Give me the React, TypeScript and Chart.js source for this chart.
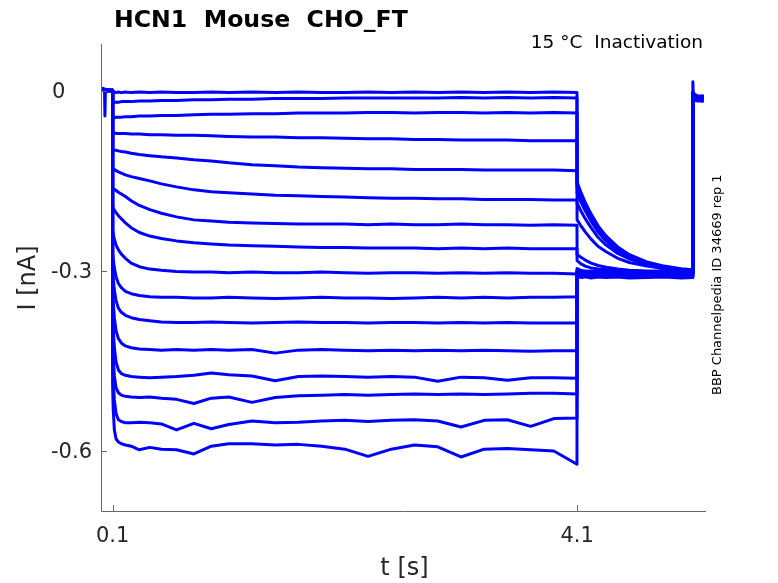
import React, { useEffect, useRef } from "react";
import Chart from "chart.js/auto";

// sample times (s) of each sweep segment
const preTimes = [0, 0.03, 0.034, 0.038, 0.099];
const stepTimes = [
  0.1, 0.105, 0.115, 0.13, 0.15, 0.175, 0.21, 0.26, 0.33, 0.42,
  0.52, 0.65, 0.8, 0.95, 1.1, 1.3, 1.5, 1.7, 1.9, 2.1,
  2.3, 2.5, 2.7, 2.9, 3.1, 3.3, 3.5, 3.7, 3.9, 4.099,
];
const tailTimes = [4.1, 4.13, 4.17, 4.22, 4.28, 4.35, 4.45, 4.55, 4.7, 4.85, 5.0, 5.095];
const postTimes = [5.097, 5.1, 5.14, 5.19];
const sweepTimes = [...preTimes, ...stepTimes, ...tailTimes, ...postTimes];

// current (nA): pre | step | tail | post
const sweep01 = [
  0.005, 0.003, -0.042, 0.002, 0.001,
  -0.002, -0.003, -0.002, -0.003, -0.002, -0.003, -0.002, -0.003, -0.002, -0.003,
  -0.002, -0.003, -0.003, -0.002, -0.003, -0.002, -0.003, -0.002, -0.003, -0.003,
  -0.002, -0.003, -0.002, -0.003, -0.002, -0.003, -0.002, -0.003, -0.002, -0.003,
  -0.152, -0.168, -0.186, -0.205, -0.225, -0.242, -0.26, -0.273, -0.285, -0.292, -0.297, -0.298,
  0.015, -0.004, -0.009, -0.008,
];
const sweep02 = [
  0.002, 0.001, 0.0, 0.001, -0.001,
  -0.02, -0.02, -0.019, -0.019, -0.019, -0.018, -0.018, -0.018, -0.017, -0.017,
  -0.016, -0.016, -0.015, -0.015, -0.014, -0.014, -0.013, -0.013, -0.013, -0.012,
  -0.012, -0.012, -0.012, -0.012, -0.011, -0.012, -0.011, -0.012, -0.011, -0.012,
  -0.155, -0.17, -0.188, -0.207, -0.226, -0.243, -0.262, -0.274, -0.286, -0.293, -0.297, -0.298,
  -0.003, -0.009, -0.011, -0.01,
];
const sweep03 = [
  0.003, 0.0, 0.001, 0.0, 0.001,
  -0.045, -0.045, -0.045, -0.044, -0.044, -0.044, -0.043, -0.043, -0.042, -0.042,
  -0.041, -0.041, -0.04, -0.039, -0.039, -0.038, -0.038, -0.037, -0.037, -0.037,
  -0.036, -0.036, -0.037, -0.036, -0.036, -0.037, -0.036, -0.037, -0.036, -0.037,
  -0.16, -0.175, -0.192, -0.21, -0.229, -0.246, -0.264, -0.276, -0.288, -0.295, -0.299, -0.3,
  -0.005, -0.012, -0.01, -0.013,
];
const sweep04 = [
  0.001, 0.002, 0.0, 0.001, 0.0,
  -0.07, -0.07, -0.07, -0.071, -0.071, -0.071, -0.071, -0.072, -0.072, -0.073,
  -0.073, -0.074, -0.074, -0.075, -0.076, -0.077, -0.077, -0.078, -0.078, -0.079,
  -0.08, -0.08, -0.081, -0.081, -0.082, -0.082, -0.082, -0.083, -0.083, -0.083,
  -0.17, -0.184, -0.2, -0.217, -0.235, -0.25, -0.267, -0.279, -0.29, -0.297, -0.301, -0.302,
  -0.002, -0.008, -0.012, -0.009,
];
const sweep05 = [
  0.002, 0.0, 0.001, -0.001, 0.001,
  -0.098, -0.098, -0.099, -0.099, -0.1, -0.101, -0.102, -0.104, -0.106, -0.108,
  -0.11, -0.112, -0.115, -0.117, -0.12, -0.123, -0.125, -0.127, -0.128, -0.129,
  -0.13, -0.13, -0.131, -0.131, -0.131, -0.132, -0.132, -0.132, -0.132, -0.133,
  -0.187, -0.199, -0.213, -0.228, -0.244, -0.257, -0.271, -0.28, -0.29, -0.296, -0.299, -0.3,
  -0.006, -0.014, -0.011, -0.012,
];
const sweep06 = [
  0.001, 0.001, 0.002, 0.0, 0.0,
  -0.128, -0.129, -0.131, -0.133, -0.135, -0.137, -0.14, -0.143, -0.146, -0.15,
  -0.155, -0.16, -0.165, -0.168, -0.17, -0.172, -0.174, -0.175, -0.176, -0.177,
  -0.178, -0.179, -0.179, -0.18, -0.18, -0.181, -0.181, -0.181, -0.182, -0.182,
  -0.215, -0.224, -0.235, -0.247, -0.259, -0.268, -0.279, -0.286, -0.292, -0.296, -0.298, -0.299,
  -0.004, -0.01, -0.013, -0.011,
];
const sweep07 = [
  0.003, 0.001, 0.0, 0.002, 0.001,
  -0.162, -0.163, -0.164, -0.166, -0.169, -0.172, -0.176, -0.183, -0.191, -0.198,
  -0.204, -0.21, -0.215, -0.217, -0.219, -0.22, -0.221, -0.222, -0.222, -0.222,
  -0.223, -0.222, -0.223, -0.223, -0.222, -0.223, -0.223, -0.224, -0.223, -0.224,
  -0.273, -0.277, -0.282, -0.287, -0.291, -0.294, -0.297, -0.299, -0.3, -0.301, -0.301, -0.301,
  -0.007, -0.015, -0.012, -0.014,
];
const sweep08 = [
  0.0, 0.002, 0.001, 0.001, 0.0,
  -0.193, -0.195, -0.199, -0.203, -0.208, -0.213, -0.22, -0.228, -0.236, -0.242,
  -0.246, -0.25, -0.253, -0.255, -0.257, -0.258, -0.259, -0.26, -0.261, -0.261,
  -0.262, -0.262, -0.262, -0.263, -0.262, -0.263, -0.262, -0.263, -0.263, -0.263,
  -0.283, -0.288, -0.292, -0.295, -0.297, -0.298, -0.299, -0.3, -0.301, -0.3, -0.301, -0.3,
  -0.003, -0.011, -0.009, -0.01,
];
const sweep09 = [
  0.002, 0.001, 0.0, 0.0, 0.001,
  -0.232, -0.238, -0.247, -0.257, -0.265, -0.272, -0.279, -0.287, -0.293, -0.297,
  -0.299, -0.301, -0.302, -0.302, -0.303, -0.302, -0.303, -0.303, -0.302, -0.303,
  -0.304, -0.303, -0.303, -0.304, -0.303, -0.304, -0.303, -0.304, -0.304, -0.305,
  -0.3, -0.303, -0.302, -0.304, -0.303, -0.305, -0.304, -0.303, -0.305, -0.304, -0.305, -0.304,
  -0.008, -0.016, -0.014, -0.015,
];
const sweep10 = [
  0.001, 0.0, 0.001, 0.002, 0.0,
  -0.27, -0.28, -0.295, -0.31, -0.321, -0.328, -0.334, -0.338, -0.341, -0.343,
  -0.344, -0.344, -0.345, -0.345, -0.344, -0.345, -0.346, -0.345, -0.344, -0.345,
  -0.345, -0.346, -0.345, -0.344, -0.345, -0.344, -0.345, -0.344, -0.344, -0.343,
  -0.296, -0.299, -0.301, -0.3, -0.302, -0.301, -0.302, -0.303, -0.302, -0.301, -0.303, -0.302,
  -0.005, -0.012, -0.015, -0.013,
];
const sweep11 = [
  0.002, 0.002, 0.0, 0.001, 0.001,
  -0.298, -0.312, -0.332, -0.35, -0.362, -0.369, -0.374, -0.378, -0.381, -0.383,
  -0.385, -0.386, -0.386, -0.385, -0.386, -0.387, -0.386, -0.385, -0.386, -0.386,
  -0.387, -0.386, -0.386, -0.387, -0.386, -0.387, -0.386, -0.387, -0.387, -0.387,
  -0.302, -0.305, -0.306, -0.305, -0.307, -0.306, -0.305, -0.307, -0.306, -0.307, -0.306, -0.307,
  -0.009, -0.017, -0.013, -0.016,
];
const sweep12 = [
  0.001, 0.001, 0.001, 0.0, 0.0,
  -0.33, -0.35, -0.378, -0.4, -0.413, -0.42, -0.425, -0.428, -0.43, -0.431,
  -0.432, -0.431, -0.432, -0.431, -0.432, -0.431, -0.437, -0.432, -0.431, -0.432,
  -0.433, -0.432, -0.433, -0.432, -0.433, -0.432, -0.433, -0.434, -0.433, -0.433,
  -0.298, -0.301, -0.3, -0.302, -0.301, -0.303, -0.302, -0.301, -0.303, -0.302, -0.303, -0.302,
  -0.004, -0.01, -0.012, -0.011,
];
const sweep13 = [
  0.003, 0.001, 0.002, 0.001, 0.0,
  -0.37, -0.395, -0.428, -0.452, -0.465, -0.471, -0.474, -0.476, -0.477, -0.478,
  -0.477, -0.476, -0.474, -0.47, -0.473, -0.475, -0.483, -0.476, -0.475, -0.476,
  -0.477, -0.476, -0.477, -0.484, -0.477, -0.478, -0.482, -0.478, -0.478, -0.479,
  -0.305, -0.308, -0.307, -0.309, -0.308, -0.307, -0.309, -0.308, -0.307, -0.309, -0.308, -0.309,
  -0.006, -0.018, -0.014, -0.016,
];
const sweep14 = [
  0.001, 0.0, 0.0, 0.001, 0.001,
  -0.41, -0.44, -0.475, -0.495, -0.503, -0.507, -0.509, -0.51, -0.511, -0.51,
  -0.512, -0.514, -0.521, -0.512, -0.51, -0.519, -0.511, -0.508, -0.507, -0.506,
  -0.507, -0.506, -0.505, -0.506, -0.505, -0.506, -0.505, -0.504, -0.504, -0.505,
  -0.3, -0.303, -0.304, -0.303, -0.305, -0.304, -0.303, -0.305, -0.304, -0.305, -0.304, -0.305,
  -0.005, -0.013, -0.01, -0.012,
];
const sweep15 = [
  0.002, 0.001, 0.0, 0.002, 0.0,
  -0.45, -0.48, -0.515, -0.538, -0.548, -0.551, -0.553, -0.553, -0.552, -0.553,
  -0.555, -0.565, -0.554, -0.563, -0.556, -0.55, -0.553, -0.552, -0.55, -0.549,
  -0.551, -0.549, -0.548, -0.55, -0.56, -0.549, -0.548, -0.559, -0.546, -0.545,
  -0.303, -0.306, -0.305, -0.307, -0.306, -0.305, -0.307, -0.306, -0.305, -0.306, -0.307, -0.306,
  -0.007, -0.015, -0.017, -0.014,
];
const sweep16 = [
  0.001, 0.002, 0.001, 0.0, 0.001,
  -0.49, -0.53, -0.565, -0.58, -0.585, -0.588, -0.59, -0.592, -0.598, -0.594,
  -0.597, -0.598, -0.605, -0.592, -0.588, -0.588, -0.59, -0.589, -0.592, -0.597,
  -0.609, -0.597, -0.59, -0.593, -0.61, -0.597, -0.596, -0.598, -0.6, -0.622,
  -0.308, -0.311, -0.31, -0.312, -0.31, -0.311, -0.31, -0.312, -0.311, -0.31, -0.312, -0.311,
  -0.008, -0.014, -0.016, -0.018,
];
const sweeps = [
  sweep01, sweep02, sweep03, sweep04, sweep05, sweep06, sweep07, sweep08,
  sweep09, sweep10, sweep11, sweep12, sweep13, sweep14, sweep15, sweep16,
];

const xTicks = [0.1, 4.1];
const xTickLabels = ["0.1", "4.1"];
const yTicks = [0, -0.3, -0.6];
const yTickLabels = ["0\u2007\u2007", "-0.3", "-0.6"];

const titleText = "HCN1  Mouse  CHO_FT";
const conditionText = "15 °C  Inactivation";
const sourceText = "BBP Channelpedia ID 34669 rep 1";

const FONT = '"DejaVu Sans", "Liberation Sans", sans-serif';

const matlabAxes = {
  id: "matlabAxes",
  afterDraw(chart: any) {
    const { ctx, chartArea: a, scales } = chart;
    const xs = scales.x;
    const ys = scales.y;
    ctx.save();

    // axis lines, ticks pointing inward
    ctx.strokeStyle = "#666666";
    ctx.lineWidth = 1;
    ctx.beginPath();
    ctx.moveTo(a.left + 0.5, a.top);
    ctx.lineTo(a.left + 0.5, a.bottom + 0.5);
    ctx.lineTo(a.right, a.bottom + 0.5);
    yTicks.forEach((v) => {
      const py = Math.round(ys.getPixelForValue(v)) + 0.5;
      ctx.moveTo(a.left, py);
      ctx.lineTo(a.left + 6, py);
    });
    xTicks.forEach((v) => {
      const px = Math.round(xs.getPixelForValue(v)) + 0.5;
      ctx.moveTo(px, a.bottom);
      ctx.lineTo(px, a.bottom - 6);
    });
    ctx.stroke();

    // tick labels
    ctx.fillStyle = "#262626";
    ctx.font = `21px ${FONT}`;
    ctx.textBaseline = "alphabetic";
    ctx.textAlign = "right";
    yTicks.forEach((v, i) => {
      ctx.fillText(yTickLabels[i], a.left - 9, ys.getPixelForValue(v) + 7.5);
    });
    ctx.textAlign = "center";
    xTicks.forEach((v, i) => {
      ctx.fillText(xTickLabels[i], xs.getPixelForValue(v), a.bottom + 31);
    });

    // axis titles
    ctx.font = `24px ${FONT}`;
    ctx.fillText("t [s]", (a.left + a.right) / 2 + 1, 575);
    ctx.save();
    ctx.translate(35, 278);
    ctx.rotate(-Math.PI / 2);
    ctx.fillText("I [nA]", 0, 0);
    ctx.restore();

    // title and notes
    ctx.fillStyle = "#000000";
    ctx.textAlign = "left";
    ctx.font = `bold 23.6px ${FONT}`;
    ctx.fillText(titleText, 114, 27);
    ctx.textAlign = "right";
    ctx.font = `18.5px ${FONT}`;
    ctx.fillText(conditionText, 703, 48);
    ctx.save();
    ctx.translate(720.5, 395);
    ctx.rotate(-Math.PI / 2);
    ctx.textAlign = "left";
    ctx.font = `13px ${FONT}`;
    ctx.fillText(sourceText, 0, 0);
    ctx.restore();

    ctx.restore();
  },
};

const App: React.FC = () => {
  const canvasRef = useRef<HTMLCanvasElement | null>(null);

  useEffect(() => {
    if (!canvasRef.current) return;
    const ctx = canvasRef.current.getContext("2d");
    if (!ctx) return;

    const chart = new Chart(ctx, {
      type: "line",
      data: {
        datasets: sweeps.map((s) => ({
          data: s.map((v, i) => ({ x: sweepTimes[i], y: v })),
          borderColor: "#0000ff",
          borderWidth: 3,
          borderJoinStyle: "round",
          pointRadius: 0,
          fill: false,
          tension: 0,
        })),
      },
      options: {
        responsive: false,
        animation: false,
        parsing: false,
        events: [],
        layout: { padding: { left: 101, top: 44, right: 72, bottom: 72 } },
        plugins: {
          legend: { display: false },
          tooltip: { enabled: false },
        },
        scales: {
          x: { type: "linear", min: 0, max: 5.21, display: false },
          y: { type: "linear", min: -0.7, max: 0.078, display: false },
        },
      },
      plugins: [matlabAxes],
    });

    return () => {
      chart.destroy();
    };
  }, []);

  return (
    <div style={{ position: "fixed", left: 0, top: 0, width: 778, height: 583, background: "#fff" }}>
      <canvas ref={canvasRef} width={778} height={583} style={{ display: "block" }} />
    </div>
  );
};

export default App;
